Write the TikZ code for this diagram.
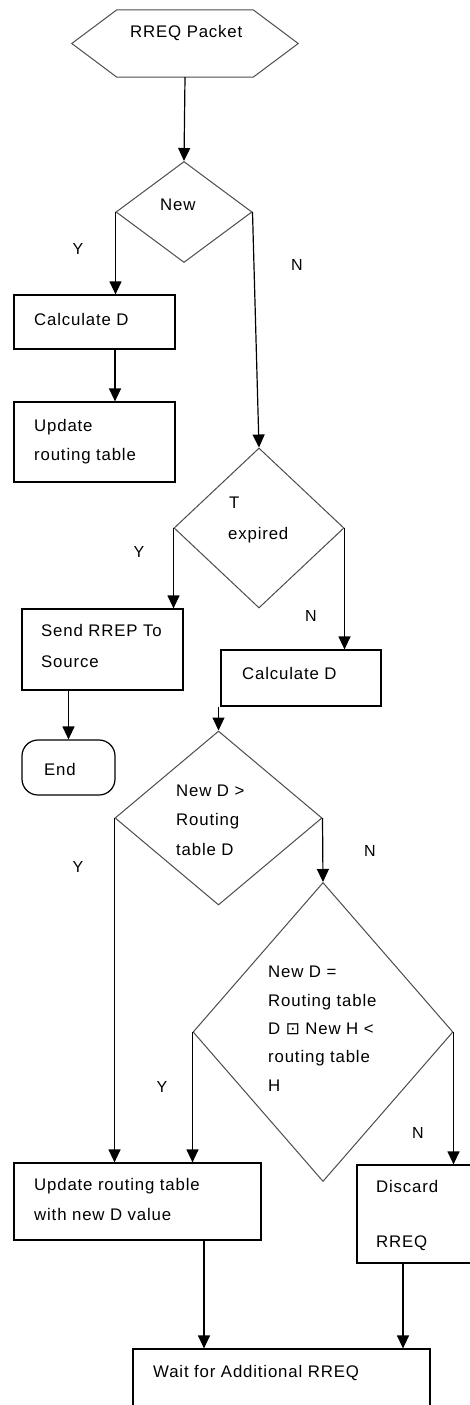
\documentclass[tikz,border=0pt]{standalone}
\usepackage{fontspec}
\setmainfont{Liberation Sans}[LetterSpace=5]
\newfontfamily\dejavu{DejaVu Sans}
\usetikzlibrary{shapes.geometric,arrows.meta}
\tikzset{
  boxnode/.style={draw=black, line width=1.2pt, rectangle, inner sep=0pt},
  decnode/.style={draw=black!70, line width=1pt, diamond, inner sep=0pt},
  txt/.style={anchor=base west, inner sep=0pt, font=\fontsize{16.8}{20}\selectfont},
  lbl/.style={inner sep=0pt, font=\fontsize{16}{20}\selectfont},
  arr/.style={line width=1.2pt, -{Triangle[width=12pt,length=13pt]}},
}
\begin{document}
\begin{tikzpicture}[x=1pt,y=-1pt]
\clip (0,0) rectangle (470,1405);
\fill[white] (0,0) rectangle (470,1405);
% hexagon start
\node[inner sep=0pt, minimum width=226pt, minimum height=67pt] (hex) at (185,43.5) {};
\draw[draw=black!70, line width=1pt] (hex.west) -- ([xshift=45pt]hex.north west) -- ([xshift=-45pt]hex.north east) -- (hex.east) -- ([xshift=-45pt]hex.south east) -- ([xshift=45pt]hex.south west) -- cycle;
\node[txt] (thex) at (130,38) {RREQ Packet};
% decision New
\node[decnode, minimum width=136pt, minimum height=101pt] (new) at (184,212) {};
\node[txt] (tnew) at (160,210) {New};
% boxes left
\node[boxnode, minimum width=161pt, minimum height=54pt] (calc1) at (94.5,322) {};
\node[txt] (tcalc1) at (34,325) {Calculate D};
\node[boxnode, minimum width=161pt, minimum height=80pt] (upd1) at (94.5,442) {};
\node[txt] (tupd1a) at (34,431) {Update};
\node[txt] (tupd1b) at (34,460) {routing table};
% decision T expired
\node[decnode, minimum width=170pt, minimum height=160pt] (texp) at (259,528) {};
\node[txt] (ttexpa) at (229,508) {T};
\node[txt] (ttexpb) at (228,539) {expired};
% send / end
\node[boxnode, minimum width=161pt, minimum height=81pt] (send) at (102.5,649.5) {};
\node[txt] (tsenda) at (41,636) {Send RREP To};
\node[txt] (tsendb) at (41,667) {Source};
\node[boxnode, rounded corners=16pt, minimum width=93pt, minimum height=55pt] (endn) at (68.5,767.5) {};
\node[txt] (tend) at (44,775) {End};
% calc 2
\node[boxnode, minimum width=160pt, minimum height=56pt] (calc2) at (301,678) {};
\node[txt] (tcalc2) at (242,679) {Calculate D};
% decision D3
\node[decnode, minimum width=207pt, minimum height=174pt] (dthree) at (218.5,818) {};
\node[txt] (td3a) at (176,796) {New D >};
\node[txt] (td3b) at (176,825) {Routing};
\node[txt] (td3c) at (176,855) {table D};
% decision D4
\node[decnode, minimum width=260pt, minimum height=299pt] (dfour) at (323,1032) {};
\node[txt] (td4a) at (268,977) {New D =};
\node[txt] (td4b) at (268,1006) {Routing table};
\node[txt] (td4c) at (268,1034) {D {\dejavu ⊡} New H <};
\node[txt] (td4d) at (268,1062) {routing table};
\node[txt] (td4e) at (268,1091) {H};
% bottom boxes
\node[boxnode, minimum width=247pt, minimum height=77pt] (upd2) at (137.5,1201.5) {};
\node[txt] (tupd2a) at (34,1190) {Update routing table};
\node[txt] (tupd2b) at (34,1220) {with new D value};
\node[boxnode, minimum width=143pt, minimum height=98pt] (disc) at (428.5,1214) {};
\node[txt] (tdisca) at (376,1192) {Discard};
\node[txt] (tdiscb) at (376,1247) {RREQ};
\node[boxnode, minimum width=297pt, minimum height=91pt] (wait) at (281.5,1394.5) {};
\node[txt] (twait) at (153,1377) {Wait for Additional RREQ};
% branch labels
\node[lbl] (ly1) at (78,249) {Y};
\node[lbl] (ln1) at (297,265) {N};
\node[lbl] (ly2) at (139,552) {Y};
\node[lbl] (ln2) at (311,616) {N};
\node[lbl] (ly3) at (78,867) {Y};
\node[lbl] (ln3) at (370,851) {N};
\node[lbl] (ly4) at (162,1087) {Y};
\node[lbl] (ln4) at (418,1133) {N};
% coordinates for offset connectors
\coordinate (c1) at (115,0);
\coordinate (c2) at (204,0);
\coordinate (c3) at (403,0);
% connectors
\draw[arr] (hex.south) -- (new.north);
\draw[arr] (new.west) -- (new.west |- calc1.north);
\draw[arr] (new.east) -- (texp.north);
\draw[arr] (c1 |- calc1.south) -- (c1 |- upd1.north);
\draw[arr] (texp.west) -- (texp.west |- send.north);
\draw[arr] (texp.east) -- (texp.east |- calc2.north);
\draw[arr] (endn.north |- send.south) -- (endn.north);
\draw[arr] (dthree.north |- calc2.south) -- (dthree.north);
\draw[arr] (dthree.west) -- (dthree.west |- upd2.north);
\draw[arr] (dthree.east) -- (dfour.north);
\draw[arr] (dfour.west) -- (dfour.west |- upd2.north);
\draw[arr] (dfour.east) -- (dfour.east |- disc.north);
\draw[arr] (c2 |- upd2.south) -- (c2 |- wait.north);
\draw[arr] (c3 |- disc.south) -- (c3 |- wait.north);
\end{tikzpicture}
\end{document}
